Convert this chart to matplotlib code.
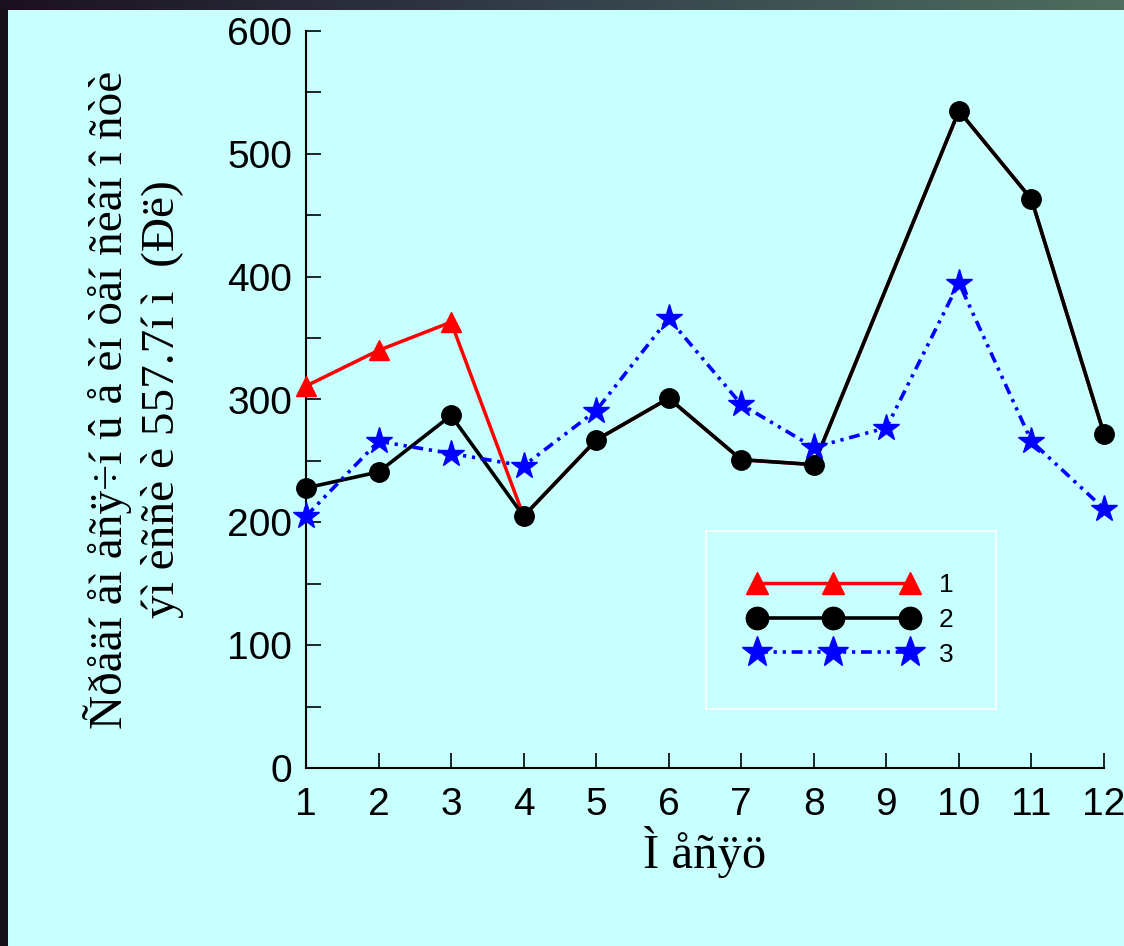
import numpy as np
import matplotlib
matplotlib.use("Agg")
import matplotlib.pyplot as plt
from matplotlib.ticker import MultipleLocator

# values
month_ticks = [1, 2, 3, 4, 5, 6, 7, 8, 9, 10, 11, 12]
x_12 = [1, 2, 3, 4, 5, 6, 7, 8, 10, 11, 12]
series1 = [311, 340, 363, 205, 267, 301, 251, 247, 535, 463, 272]
series2 = [228, 241, 287, 205, 267, 301, 251, 247, 535, 463, 272]
x_3 = [1, 2, 3, 4, 5, 6, 7, 8, 9, 10, 11, 12]
series3 = [205, 266, 256, 246, 291, 366, 296, 261, 277, 395, 266, 211]
labels = ["1", "2", "3"]

xlabel = "Ì åñÿö"
ylabel_1 = "Ñðåäí åì åñÿ÷í û å èí òåí ñèâí î ñòè"
ylabel_2 = "ýì èññè è 557.7í ì  (Ðë)"

W, H = 1124, 946
fig = plt.figure(figsize=(W / 100, H / 100), dpi=100)
fig.patch.set_facecolor("#161019")

# cyan panel
bg = fig.add_axes([8 / W, 0, 1 - 8 / W, 1 - 10 / H])
bg.set_facecolor("#c8ffff")
bg.set_xticks([])
bg.set_yticks([])
for s in bg.spines.values():
    s.set_visible(False)

# dark gradient strip at the top
top = fig.add_axes([0, 1 - 10 / H, 1, 10 / H])
grad = np.linspace(0, 1, 256).reshape(1, -1)
cmap = matplotlib.colors.LinearSegmentedColormap.from_list("strip", ["#1a1020", "#34404a", "#4f6e60"])
top.imshow(grad, aspect="auto", cmap=cmap)
top.axis("off")

ax = fig.add_axes([306 / W, 178 / H, 798 / W, 737 / H])
ax.patch.set_visible(False)

# red markers beyond month 4 sit under the black circles in the original
ax.plot(x_12, series1, color="red", lw=2.5, marker="^", ms=14, markevery=[0, 1, 2],
        clip_on=False, zorder=3, label=labels[0])
ax.plot(x_12, series2, color="black", lw=2.6, marker="o", ms=14, clip_on=False, zorder=4, label=labels[1])
ax.plot(x_3, series3, color="blue", lw=2.6, ls=(0, (3, 1.6, 0.9, 1.6, 0.9, 1.6)),
        marker="*", ms=20, clip_on=False, zorder=5, label=labels[2])

ax.set_xlim(1, 12)
ax.set_ylim(0, 600)
ax.set_xticks(month_ticks)
ax.yaxis.set_major_locator(MultipleLocator(100))
ax.yaxis.set_minor_locator(MultipleLocator(50))

for side in ["top", "right"]:
    ax.spines[side].set_visible(False)
for side in ["left", "bottom"]:
    ax.spines[side].set_linewidth(1.5)

ax.tick_params(axis="both", which="both", direction="in", length=11, width=1.2)
ax.tick_params(axis="x", pad=14, labelsize=28)
ax.tick_params(axis="y", pad=10, labelsize=28)
for t in ax.get_xticklabels() + ax.get_yticklabels():
    t.set_family("Liberation Sans")

ax.set_xlabel(xlabel, family="Liberation Serif", fontsize=35, labelpad=2)
ax.set_ylabel(ylabel_1 + "\n" + ylabel_2, family="Liberation Serif", fontsize=34,
              linespacing=1.3, va="center")
ax.yaxis.set_label_coords((133.5 - 306) / 798, 0.5)

leg = ax.legend(loc="center", bbox_to_anchor=((851 - 306) / 798, (946 - 620 - 178) / 737),
                numpoints=3, handlelength=6.4, handletextpad=0.8, labelspacing=0.4,
                borderpad=1.6, fancybox=False, markerscale=1.15,
                prop={"family": "Liberation Sans", "size": 19})
leg.get_frame().set_edgecolor("white")
leg.get_frame().set_facecolor("none")
leg.get_frame().set_linewidth(1.5)

fig.savefig("out.png", dpi=100, facecolor=fig.get_facecolor())
